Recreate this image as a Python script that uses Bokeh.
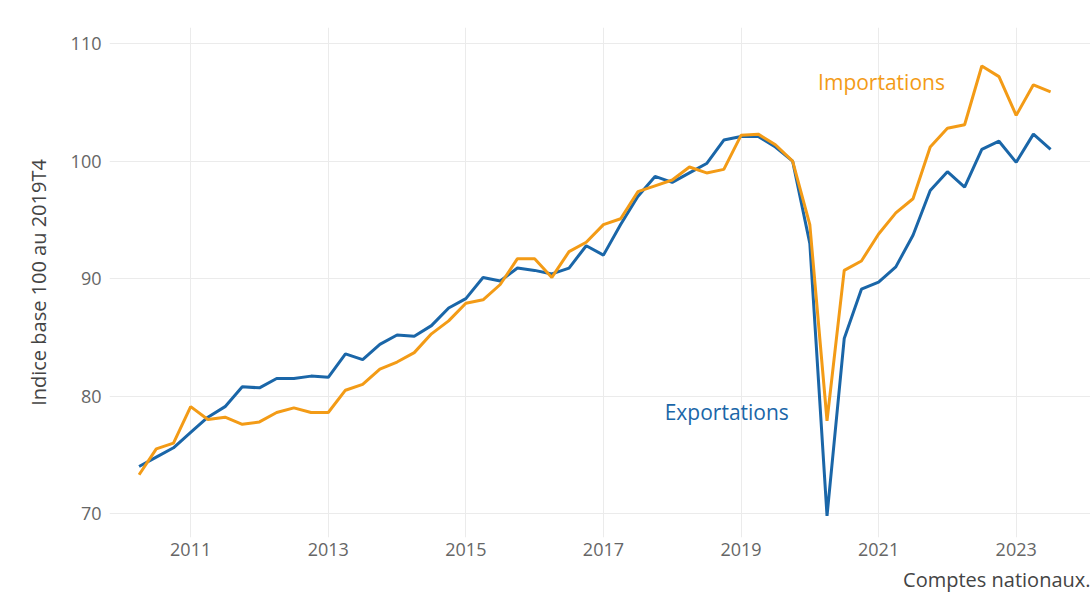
from bokeh.plotting import figure
from bokeh.models import FixedTicker, Label, Range1d, Title, ColumnDataSource
from bokeh.embed import file_html
from bokeh.resources import INLINE

# Quarters 2010T2 .. 2023T3
quarters = [f"{y}T{q}" for y in range(2010, 2024) for q in range(1, 5)][1:-1]

exportations = [74.0, 74.8, 75.6, 76.9, 78.2, 79.1, 80.8, 80.7, 81.5, 81.5,
                81.7, 81.6, 83.6, 83.1, 84.4, 85.2, 85.1, 86.0, 87.5, 88.3,
                90.1, 89.8, 90.9, 90.7, 90.4, 90.9, 92.8, 92.0, 94.6, 97.0,
                98.7, 98.2, 99.0, 99.8, 101.8, 102.1, 102.1, 101.2, 100.0, 93.0,
                69.8, 84.9, 89.1, 89.7, 91.0, 93.7, 97.5, 99.1, 97.8, 101.0,
                101.7, 99.9, 102.3, 101.0]

importations = [73.3, 75.5, 76.0, 79.1, 78.0, 78.2, 77.6, 77.8, 78.6, 79.0,
                78.6, 78.6, 80.5, 81.0, 82.3, 82.9, 83.7, 85.3, 86.4, 87.9,
                88.2, 89.5, 91.7, 91.7, 90.1, 92.3, 93.1, 94.6, 95.1, 97.4,
                97.9, 98.4, 99.5, 99.0, 99.3, 102.2, 102.3, 101.4, 100.0, 94.6,
                77.9, 90.7, 91.5, 93.8, 95.6, 96.8, 101.2, 102.8, 103.1, 108.1,
                107.2, 103.9, 106.5, 105.9]

x_ticks = [2011, 2013, 2015, 2017, 2019, 2021, 2023]
y_ticks = [70, 80, 90, 100, 110]

y_title = "Indice base 100 au 2019T4"
source_note = "Comptes nationaux."

BLUE = "#1a66a8"
ORANGE = "#f39b16"
FONT = "Open Sans"

xs = [int(q[:4]) + (int(q[-1]) - 1) / 4 for q in quarters]
src = ColumnDataSource(dict(x=xs, exp=exportations, imp=importations))

p = figure(width=1090, height=597,
           x_range=Range1d(2009.82, 2024.08), y_range=Range1d(67.96, 111.38),
           output_backend="svg", toolbar_location=None,
           min_border_left=109, min_border_right=0, min_border_top=27,
           min_border_bottom=58)
p.outline_line_color = None
p.background_fill_color = "white"
p.border_fill_color = "white"

p.line("x", "exp", source=src, line_color=BLUE, line_width=3)
p.line("x", "imp", source=src, line_color=ORANGE, line_width=3)

p.xaxis.ticker = FixedTicker(ticks=x_ticks)
p.yaxis.ticker = FixedTicker(ticks=y_ticks)
p.xgrid.ticker = FixedTicker(ticks=x_ticks)
p.ygrid.ticker = FixedTicker(ticks=y_ticks)
for g in (p.xgrid, p.ygrid):
    g.grid_line_color = "#ebebeb"
    g.grid_line_width = 1

for ax in (p.xaxis, p.yaxis):
    ax.axis_line_color = None
    ax.major_tick_line_color = None
    ax.minor_tick_line_color = None
    ax.major_tick_out = 0
    ax.major_tick_in = 0
    ax.minor_tick_out = 0
    ax.major_label_text_font = FONT
    ax.major_label_text_font_size = "18px"
    ax.major_label_text_color = "#666666"

p.xaxis.major_label_standoff = 5
p.yaxis.major_label_standoff = 8
p.yaxis.axis_label = y_title
p.yaxis.axis_label_text_font = FONT
p.yaxis.axis_label_text_font_size = "20px"
p.yaxis.axis_label_text_font_style = "normal"
p.yaxis.axis_label_text_color = "#444444"
p.yaxis.axis_label_standoff = 16

p.add_layout(Label(x=2020.12, y=106.7, text="Importations", text_color=ORANGE,
                   text_font=FONT, text_font_size="21px", text_baseline="middle",
                   text_align="left"))
p.add_layout(Label(x=2017.89, y=78.67, text="Exportations", text_color=BLUE,
                   text_font=FONT, text_font_size="21px", text_baseline="middle",
                   text_align="left"))

p.add_layout(Title(text=source_note, align="right", text_font=FONT,
                   text_font_size="20px", text_font_style="normal",
                   text_color="#444444", offset=0), "below")

open("out.html", "w").write(file_html(p, INLINE))
